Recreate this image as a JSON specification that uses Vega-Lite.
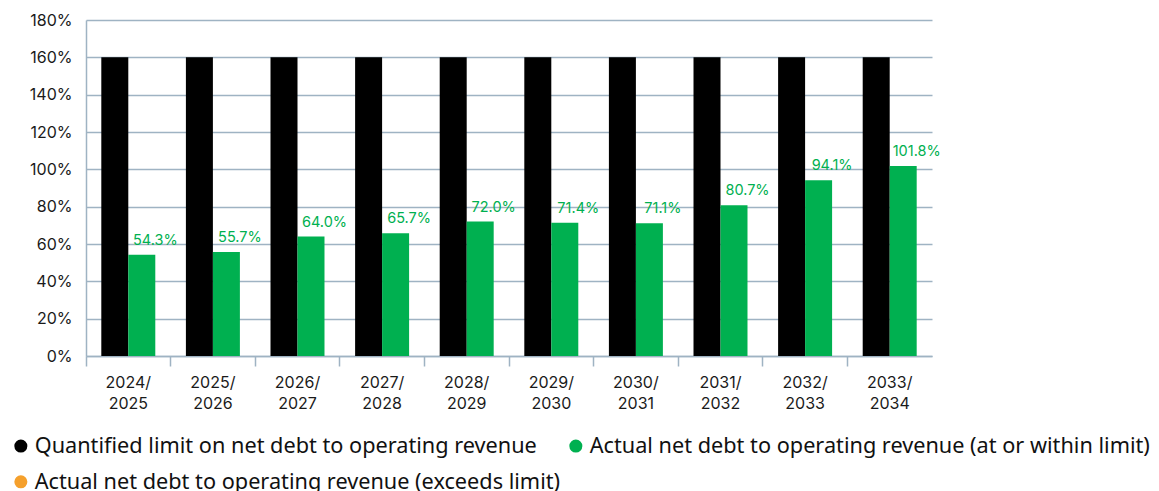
{
  "$schema": "https://vega.github.io/schema/vega-lite/v6.json",
  "width": 846,
  "height": 336,
  "autosize": "none",
  "padding": {"left": 86, "top": 20, "right": 227, "bottom": 135},
  "config": {"view": {"stroke": null}},
  "data": {"values": [
    {"year": "2024/2025", "series": "Quantified limit on net debt to operating revenue", "value": 1.6},
    {"year": "2025/2026", "series": "Quantified limit on net debt to operating revenue", "value": 1.6},
    {"year": "2026/2027", "series": "Quantified limit on net debt to operating revenue", "value": 1.6},
    {"year": "2027/2028", "series": "Quantified limit on net debt to operating revenue", "value": 1.6},
    {"year": "2028/2029", "series": "Quantified limit on net debt to operating revenue", "value": 1.6},
    {"year": "2029/2030", "series": "Quantified limit on net debt to operating revenue", "value": 1.6},
    {"year": "2030/2031", "series": "Quantified limit on net debt to operating revenue", "value": 1.6},
    {"year": "2031/2032", "series": "Quantified limit on net debt to operating revenue", "value": 1.6},
    {"year": "2032/2033", "series": "Quantified limit on net debt to operating revenue", "value": 1.6},
    {"year": "2033/2034", "series": "Quantified limit on net debt to operating revenue", "value": 1.6},
    {"year": "2024/2025", "series": "Actual net debt to operating revenue (at or within limit)", "value": 0.543},
    {"year": "2025/2026", "series": "Actual net debt to operating revenue (at or within limit)", "value": 0.557},
    {"year": "2026/2027", "series": "Actual net debt to operating revenue (at or within limit)", "value": 0.640},
    {"year": "2027/2028", "series": "Actual net debt to operating revenue (at or within limit)", "value": 0.657},
    {"year": "2028/2029", "series": "Actual net debt to operating revenue (at or within limit)", "value": 0.720},
    {"year": "2029/2030", "series": "Actual net debt to operating revenue (at or within limit)", "value": 0.714},
    {"year": "2030/2031", "series": "Actual net debt to operating revenue (at or within limit)", "value": 0.711},
    {"year": "2031/2032", "series": "Actual net debt to operating revenue (at or within limit)", "value": 0.807},
    {"year": "2032/2033", "series": "Actual net debt to operating revenue (at or within limit)", "value": 0.941},
    {"year": "2033/2034", "series": "Actual net debt to operating revenue (at or within limit)", "value": 1.018}
  ]},
  "encoding": {
    "x": {
      "field": "year", "type": "nominal", "sort": null,
      "scale": {"paddingInner": 0, "paddingOuter": 0},
      "axis": {
        "title": null, "labelAngle": 0, "bandPosition": 0,
        "ticks": true, "tickSize": 10, "tickColor": "#9fb3c3", "tickWidth": 1.5,
        "domainColor": "#9fb3c3", "domainWidth": 1.5,
        "labelExpr": "[slice(datum.value,0,5), slice(datum.value,5)]",
        "labelFont": "Inter", "labelFontSize": 16, "labelColor": "#1a1a1a",
        "labelPadding": 8, "labelLineHeight": 21, "labelBaseline": "top"
      }
    },
    "xOffset": {
      "field": "series", "type": "nominal",
      "scale": {"domain": ["Quantified limit on net debt to operating revenue", "Actual net debt to operating revenue (at or within limit)"], "paddingInner": 0, "paddingOuter": 0.567}
    },
    "y": {
      "field": "value", "type": "quantitative",
      "scale": {"domain": [0, 1.8], "nice": false},
      "axis": {
        "title": null, "format": ".0%", "values": [0, 0.2, 0.4, 0.6, 0.8, 1.0, 1.2, 1.4, 1.6, 1.8],
        "ticks": false, "labelPadding": 14,
        "gridColor": "#9fb3c3", "gridWidth": 1.5,
        "domain": true, "domainColor": "#9fb3c3", "domainWidth": 1.5,
        "labelFont": "Inter", "labelFontSize": 16, "labelColor": "#1a1a1a"
      }
    }
  },
  "layer": [
    {
      "mark": {"type": "bar"},
      "encoding": {
        "color": {
          "field": "series", "type": "nominal",
          "scale": {
            "domain": ["Quantified limit on net debt to operating revenue", "Actual net debt to operating revenue (at or within limit)", "Actual net debt to operating revenue (exceeds limit)"],
            "range": ["#000000", "#00b050", "#f5a02c"]
          },
          "legend": {
            "title": null, "orient": "none", "legendX": -76, "legendY": 415,
            "direction": "horizontal", "columns": 2, "columnPadding": 4, "rowPadding": 13,
            "symbolType": "circle", "symbolSize": 170, "symbolStrokeWidth": 0,
            "labelFont": "Noto Sans", "labelFontSize": 21.7, "labelColor": "#111111",
            "labelLimit": 800, "labelOffset": 3
          }
        }
      }
    },
    {
      "transform": [{"filter": "datum.series === 'Actual net debt to operating revenue (at or within limit)'"}],
      "mark": {"type": "text", "dy": -7, "dx": 13.5, "baseline": "bottom", "font": "Inter", "fontSize": 14.5, "color": "#00b050"},
      "encoding": {
        "text": {"field": "value", "type": "quantitative", "format": ".1%"}
      }
    }
  ]
}
